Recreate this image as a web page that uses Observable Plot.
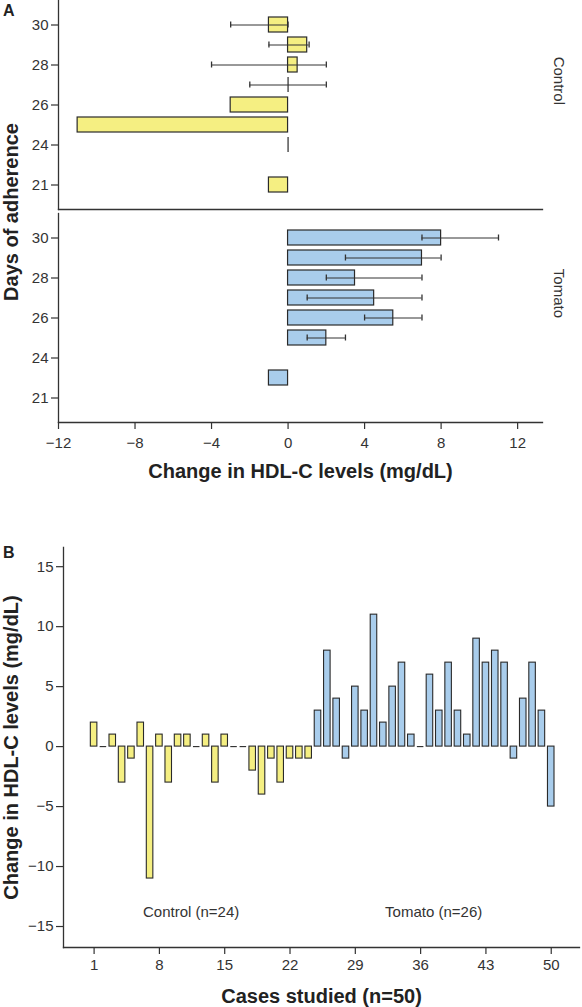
<!DOCTYPE html>
<html>
<head>
<meta charset="utf-8">
<script src="https://cdn.jsdelivr.net/npm/d3@7"></script>
<script src="https://cdn.jsdelivr.net/npm/@observablehq/plot@0.6"></script>
<style>
  body { margin: 0; background: #fff; font-family: "Liberation Sans", Arial, sans-serif; }
  #wrap { position: relative; width: 582px; height: 1007px; overflow: hidden; }
  #wrap svg { display: block; overflow: visible; }
  .plabel { position: absolute; font-weight: bold; font-size: 16px; color: #222; line-height: 1; }
  #ylabA { position: absolute; left: 11px; top: 212px; transform: translate(-50%, -50%) rotate(-90deg);
           white-space: nowrap; font-weight: bold; font-size: 20px; color: #222; line-height: 1; }
  g[aria-label="x-axis label"] text, g[aria-label="y-axis label"] text { font-weight: bold; font-size: 20px; fill: #222; }
</style>
</head>
<body>
<div id="wrap">
  <div id="chartA"></div>
  <div id="chartB"></div>
  <div class="plabel" style="left:3px;top:3px;">A</div>
  <div class="plabel" style="left:3px;top:545px;">B</div>
  <div id="ylabA">Days of adherence</div>
</div>
<script>
// ---------- Panel A data ----------
const groups = ["Control", "Tomato"];
const days = ["30", "29", "28", "27", "26", "25", "24", "22", "21"];
const dayTicks = ["30", "28", "26", "24", "21"];
const xTicksA = [-12, -8, -4, 0, 4, 8, 12];

const controlDays = ["30", "29", "28", "27", "26", "25", "24", "21"];
const controlMeans = [-1, 1, 0.5, 0, -3, -11, 0, -1];
const controlLow = [-3, -1, -4, -2, null, null, null, null];
const controlHigh = [0, 1.1, 2, 2, null, null, null, null];

const tomatoDays = ["30", "29", "28", "27", "26", "25", "22"];
const tomatoMeans = [8, 7, 3.5, 4.5, 5.5, 2, -1];
const tomatoLow = [7, 3, 2, 1, 4, 1, null];
const tomatoHigh = [11, 8, 7, 7, 7, 3, null];

// ---------- Panel B data ----------
const controlCases = [2, 0, 1, -3, -1, 2, -11, 1, -3, 1, 1, 0, 1, -3, 1, 0, 0, -2, -4, -1, -3, -1, -1, -1];
const tomatoCases = [3, 8, 4, -1, 5, 3, 11, 2, 5, 7, 1, 0, 6, 3, 7, 3, 1, 9, 7, 8, 7, -1, 4, 7, 3, -5];
const caseTicks = [1, 8, 15, 22, 29, 36, 43, 50];
const yTicksB = [15, 10, 5, 0, -5, -10, -15];
const groupNotes = [
  {label: "Control (n=24)", x: 11.4, y: -13.8},
  {label: "Tomato (n=26)", x: 37.4, y: -13.8}
];

const yellow = "#f5ef82";
const blue = "#a9cdec";
const edge = "#2a2a2a";
const axisColor = "#333";

const dataA = [];
controlDays.forEach((d, i) => dataA.push({group: "Control", day: d, value: controlMeans[i], lo: controlLow[i], hi: controlHigh[i]}));
tomatoDays.forEach((d, i) => dataA.push({group: "Tomato", day: d, value: tomatoMeans[i], lo: tomatoLow[i], hi: tomatoHigh[i]}));
const barsA = dataA.filter(d => d.value !== 0);
const zerosA = dataA.filter(d => d.value === 0);
const errA = dataA.filter(d => d.lo != null);

const plotA = Plot.plot({
  width: 582,
  height: 495,
  marginTop: 0,
  marginBottom: 73,
  marginLeft: 58,
  marginRight: 40,
  style: {fontFamily: "'Liberation Sans', Arial, sans-serif", fontSize: "15px", color: axisColor, background: "white"},
  fy: {domain: groups, paddingInner: 0.019, paddingOuter: 0, axis: null},
  y: {type: "band", domain: days, paddingInner: 0.23, paddingOuter: 0.64, axis: null},
  x: {domain: [-12, 13.3], axis: null},
  color: {domain: groups, range: [yellow, blue]},
  marks: [
    Plot.frame({anchor: "left", stroke: axisColor, strokeWidth: 1.3}),
    Plot.frame({anchor: "bottom", stroke: axisColor, strokeWidth: 1.3}),
    Plot.axisY({ticks: dayTicks, tickSize: 7, tickPadding: 3, label: null, strokeWidth: 1.2}),
    Plot.axisX({ticks: xTicksA, tickSize: 7, tickPadding: 8, label: "Change in HDL-C levels (mg/dL)",
                labelAnchor: "center", labelArrow: "none", labelOffset: 55, strokeWidth: 1.2}),
    Plot.barX(barsA, {x: "value", y: "day", fy: "group", fill: "group", stroke: edge, strokeWidth: 1.2}),
    Plot.tickX(zerosA, {x: "value", y: "day", fy: "group", stroke: edge, strokeWidth: 1.2}),
    Plot.ruleY(errA, {y: "day", fy: "group", x1: "lo", x2: "hi", stroke: "#333", strokeWidth: 1}),
    Plot.tickX(errA, {x: "lo", y: "day", fy: "group", insetTop: 4.5, insetBottom: 4.5, stroke: "#333", strokeWidth: 1.3}),
    Plot.tickX(errA, {x: "hi", y: "day", fy: "group", insetTop: 4.5, insetBottom: 4.5, stroke: "#333", strokeWidth: 1.3}),
    Plot.text(groups, {fy: d => d, text: d => d, frameAnchor: "right", rotate: 90, dx: 16, fontSize: 15, fill: "#333"})
  ]
});
document.getElementById("chartA").append(plotA);

// ---------- Panel B ----------
const dataB = controlCases.map((v, i) => ({case: i + 1, value: v, group: "Control"}))
  .concat(tomatoCases.map((v, i) => ({case: controlCases.length + i + 1, value: v, group: "Tomato"})));
const barsB = dataB.filter(d => d.value !== 0);
const zerosB = dataB.filter(d => d.value === 0);
const half = 0.35;

const plotB = Plot.plot({
  width: 582,
  height: 512,
  marginTop: 52,
  marginBottom: 60,
  marginLeft: 63,
  marginRight: 3,
  style: {fontFamily: "'Liberation Sans', Arial, sans-serif", fontSize: "15px", color: axisColor, background: "white"},
  x: {domain: [-2.28, 53.03], axis: null},
  y: {domain: [-16.75, 16.6], axis: null},
  color: {domain: groups, range: [yellow, blue]},
  marks: [
    Plot.frame({anchor: "left", stroke: axisColor, strokeWidth: 1.3}),
    Plot.frame({anchor: "bottom", stroke: axisColor, strokeWidth: 1.3}),
    Plot.axisY({ticks: yTicksB, tickSize: 7, tickPadding: 3, label: "Change in HDL-C levels (mg/dL)",
                labelAnchor: "center", labelArrow: "none", labelOffset: 60, strokeWidth: 1.2}),
    Plot.axisX({ticks: caseTicks, tickSize: 7, tickPadding: 5, label: "Cases studied (n=50)",
                labelAnchor: "center", labelArrow: "none", labelOffset: 55, strokeWidth: 1.2}),
    Plot.rectY(barsB, {x1: d => d.case - half, x2: d => d.case + half, y1: 0, y2: "value", fill: "group", stroke: edge, strokeWidth: 1.1}),
    Plot.ruleY(zerosB, {y: "value", x1: d => d.case - half, x2: d => d.case + half, stroke: edge, strokeWidth: 1.1}),
    Plot.text(groupNotes, {x: "x", y: "y", text: "label", fontSize: 15, fill: "#333"})
  ]
});
document.getElementById("chartB").append(plotB);
</script>
</body>
</html>
